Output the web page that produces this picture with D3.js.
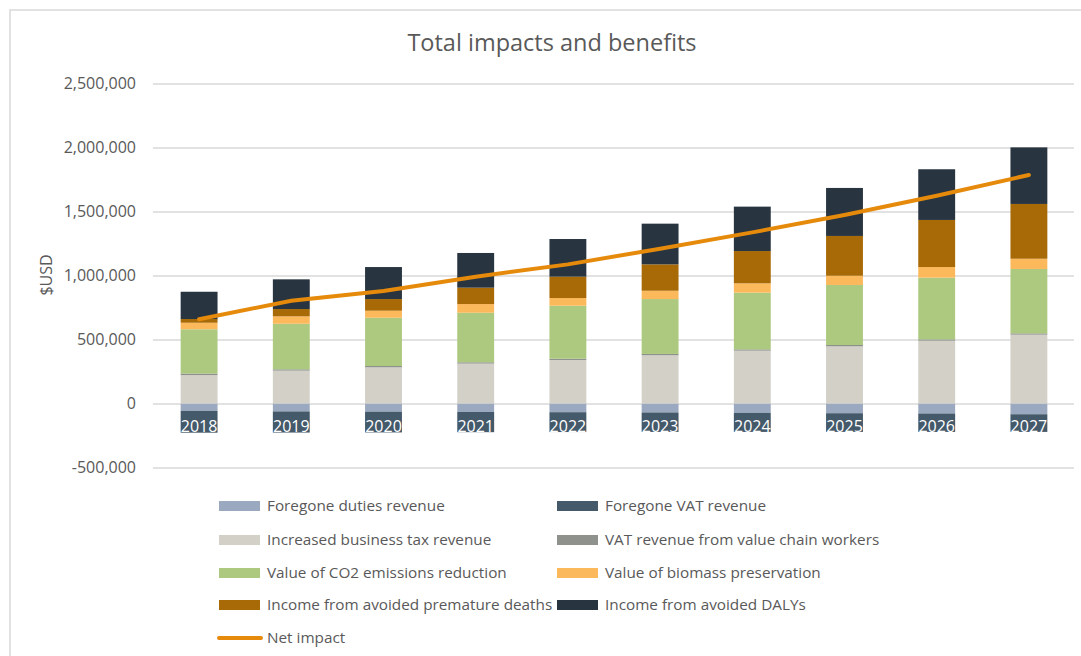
<!DOCTYPE html>
<html>
<head>
<meta charset="utf-8">
<script src="https://cdn.jsdelivr.net/npm/d3@7"></script>
<style>
  body { margin: 0; background: #fff; }
  svg { display: block; font-family: "Open Sans", sans-serif; }
</style>
</head>
<body>
<svg></svg>
<script>
var width = 1081,
    height = 656;

// values, in $USD
var years = ["2018","2019","2020","2021","2022","2023","2024","2025","2026","2027"];
var foregoneDuties   = [-58000,-62000,-64000,-66000,-68000,-70000,-74000,-76000,-78000,-84000];
var foregoneVat      = [-170000,-165000,-162000,-158000,-155000,-152000,-148000,-146000,-144000,-138000];
var businessTax      = [222000,257000,283000,312000,340000,377000,413000,447000,491000,538000];
var vatWorkers       = [12000,10000,10000,10000,10000,10000,10000,10000,10000,10000];
var co2Reduction     = [346000,356000,377000,387000,414000,429000,443000,469000,482000,503000];
var biomass          = [51000,58000,55000,68000,60000,65000,73000,72000,83000,80000];
var prematureDeaths  = [29000,57000,91000,128000,167000,206000,252000,311000,368000,428000];
var avoidedDalys     = [213000,232000,250000,271000,294000,318000,347000,375000,396000,442000];
var netImpact        = [658000,803000,879000,991000,1087000,1209000,1337000,1472000,1623000,1785000];
var yTicks = [-500000,0,500000,1000000,1500000,2000000,2500000];

var seriesNames = ["Foregone duties revenue","Foregone VAT revenue","Increased business tax revenue",
    "VAT revenue from value chain workers","Value of CO2 emissions reduction","Value of biomass preservation",
    "Income from avoided premature deaths","Income from avoided DALYs"];
var seriesValues = [foregoneDuties, foregoneVat, businessTax, vatWorkers, co2Reduction, biomass, prematureDeaths, avoidedDalys];
var colors = ["#9aa9bf","#44596a","#d3d0c8","#8e918c","#adc97f","#fbb95c","#a86a06","#28343f"];
var lineColor = "#e68a0c";

// rows for d3.stack
var rows = years.map(function(y, i) {
    var r = { year: y };
    seriesNames.forEach(function(n, k) { r[n] = seriesValues[k][i]; });
    return r;
});

// plain hyphen for negatives, like Excel
var fmt = d3.formatLocale({ decimal: ".", thousands: ",", grouping: [3], currency: ["$", ""], minus: "-" }).format(",");

var svg = d3.select("svg").attr("width", width).attr("height", height);

svg.append("rect")
    .attr("width", width).attr("height", height)
    .attr("fill", "#fff");

// chart frame (runs off the right and bottom edges)
svg.append("rect")
    .attr("x", 10).attr("y", 10)
    .attr("width", 1100).attr("height", 700)
    .attr("fill", "none")
    .attr("stroke", "#d9d9d9")
    .attr("stroke-width", 1.5);

svg.append("text")
    .attr("x", 552).attr("y", 51)
    .attr("text-anchor", "middle")
    .style("font-size", "23.5px")
    .style("fill", "#595959")
    .text("Total impacts and benefits");

var x = d3.scaleBand().domain(years).range([153, 1075]).paddingInner(0.6).paddingOuter(0.3);
var y = d3.scaleLinear().domain([-500000, 2500000]).range([467.5, 83.5]);

// gridlines + tick labels
var yAxis = d3.axisLeft(y)
    .tickValues(yTicks)
    .tickSize(-(1074 - 153))
    .tickPadding(17)
    .tickFormat(fmt);
var gy = svg.append("g")
    .attr("transform", "translate(153,0)")
    .call(yAxis);
gy.select(".domain").remove();
gy.selectAll(".tick line").attr("stroke", "#d9d9d9").attr("stroke-width", 1.5);
gy.selectAll(".tick text")
    .style("font-size", "16px")
    .style("fill", "#595959")
    .style("font-family", "'Open Sans', sans-serif");

svg.append("text")
    .attr("transform", "translate(52,275) rotate(-90)")
    .attr("text-anchor", "middle")
    .style("font-size", "16px")
    .style("fill", "#595959")
    .text("$USD");

var stack = d3.stack().keys(seriesNames).offset(d3.stackOffsetDiverging);
var stacked = stack(rows);

svg.selectAll(".series").data(stacked)
    .enter()
    .append("g")
        .attr("class", "series")
        .attr("fill", function(d, i) { return colors[i]; })
    .selectAll("rect").data(function(d) { return d; })
    .enter()
    .append("rect")
        .attr("x", function(d) { return x(d.data.year); })
        .attr("width", x.bandwidth())
        .attr("y", function(d) { return y(Math.max(d[0], d[1])); })
        .attr("height", function(d) { return Math.abs(y(d[0]) - y(d[1])); });

// category labels sit on the negative bars
svg.selectAll(".xlab").data(years)
    .enter()
    .append("text")
        .attr("x", function(d) { return x(d) + x.bandwidth() / 2; })
        .attr("y", 432)
        .attr("text-anchor", "middle")
        .style("font-size", "16px")
        .style("fill", "#fff")
        .text(function(d) { return d; });

// net impact line
var line = d3.line()
    .x(function(d, i) { return x(years[i]) + x.bandwidth() / 2; })
    .y(function(d) { return y(d); });
svg.append("path")
    .datum(netImpact)
    .attr("d", line)
    .style("fill", "none")
    .style("stroke", lineColor)
    .style("stroke-width", 4)
    .style("stroke-linecap", "round");

// legend, two columns
var legend = svg.append("g");
var legendRows = [506, 540, 573, 605];
seriesNames.forEach(function(n, i) {
    var lx = (i % 2 === 0) ? 219 : 557;
    var ly = legendRows[Math.floor(i / 2)];
    legend.append("rect")
        .attr("x", lx).attr("y", ly - 5)
        .attr("width", 41).attr("height", 10)
        .attr("fill", colors[i]);
    legend.append("text")
        .attr("x", lx + 48).attr("y", ly + 5)
        .style("font-size", "15.3px")
        .style("fill", "#595959")
        .text(n);
});
legend.append("line")
    .attr("x1", 219).attr("x2", 261)
    .attr("y1", 638).attr("y2", 638)
    .style("stroke", lineColor)
    .style("stroke-width", 4)
    .style("stroke-linecap", "round");
legend.append("text")
    .attr("x", 267).attr("y", 643)
    .style("font-size", "15.3px")
    .style("fill", "#595959")
    .text("Net impact");
</script>
</body>
</html>
